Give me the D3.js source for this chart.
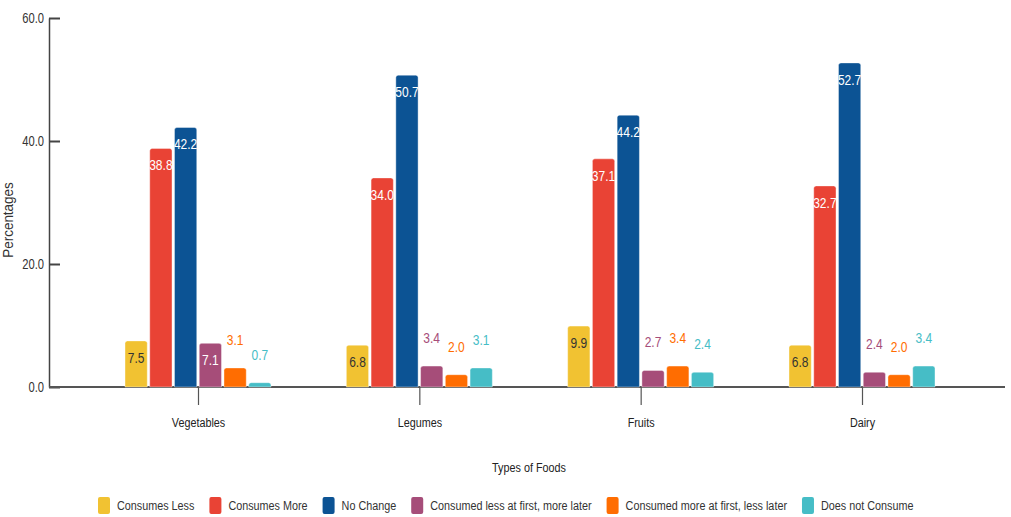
<!DOCTYPE html>
<html><head><meta charset="utf-8">
<script src="https://cdn.jsdelivr.net/npm/d3@7"></script>
<style>
html,body{margin:0;padding:0;background:#fff;}
svg{display:block;font-family:"Liberation Sans",Arial,sans-serif;}
</style></head>
<body><svg id="c" width="1011" height="517"></svg>
<script>
const categories = ["Vegetables","Legumes","Fruits","Dairy"];
const seriesNames = ["Consumes Less","Consumes More","No Change","Consumed less at first, more later","Consumed more at first, less later","Does not Consume"];
const consumesLess = [7.5, 6.8, 9.9, 6.8];
const consumesMore = [38.8, 34.0, 37.1, 32.7];
const noChange = [42.2, 50.7, 44.2, 52.7];
const lessFirstMoreLater = [7.1, 3.4, 2.7, 2.4];
const moreFirstLessLater = [3.1, 2.0, 3.4, 2.0];
const doesNotConsume = [0.7, 3.1, 2.4, 3.4];
const yTicks = [0, 20, 40, 60];
const colors = ["#F1C232","#E94335","#0C5394","#A64D79","#FF6D01","#46BDC6"];
const seriesValues = [consumesLess, consumesMore, noChange, lessFirstMoreLater, moreFirstLessLater, doesNotConsume];

const SX = 0.8; // condensed look
const svg = d3.select("#c");
const y = d3.scaleLinear().domain([0, 60]).range([387, 18]);
const x0 = d3.scalePoint().domain(categories).range([198, 862]);
const x1 = d3.scaleBand().domain(d3.range(6)).range([-73, 73]).paddingInner(0.1);

function ctext(parent, x, yy, str, size, fill, anchor){
  return parent.append("text")
    .attr("transform", `translate(${x},${yy}) scale(${SX},1)`)
    .attr("text-anchor", anchor || "middle").attr("dominant-baseline","central")
    .attr("font-size", size).attr("fill", fill).text(str);
}

// y axis
const yAxis = svg.append("g").attr("transform","translate(49,0)")
  .call(d3.axisLeft(y).tickValues(yTicks).tickFormat(d3.format(".1f")).tickSizeInner(-11).tickSizeOuter(0).tickPadding(5));
yAxis.select(".domain").attr("stroke","#444").attr("stroke-width",1.5);
yAxis.selectAll(".tick line").attr("stroke","#444").attr("stroke-width",2);
yAxis.selectAll(".tick text").remove();
yAxis.selectAll(".tick").each(function(d){
  ctext(d3.select(this), -5, 0, d3.format(".1f")(d), 14, "#333", "end");
});

// x axis
const xAxis = svg.append("g").attr("transform","translate(0,387)")
  .call(d3.axisBottom(x0).tickSizeInner(18).tickSizeOuter(0));
xAxis.select(".domain").remove();
xAxis.selectAll(".tick line").attr("stroke","#555").attr("stroke-width",1.2);
xAxis.selectAll(".tick text").remove();
xAxis.selectAll(".tick").each(function(d){
  ctext(d3.select(this), 0, 36, d, 13.5, "#222");
});
svg.append("line").attr("x1",49).attr("x2",1005).attr("y1",387).attr("y2",387)
  .attr("stroke","#555").attr("stroke-width",2);

function topRounded(x, yTop, w, h, r){
  r = Math.min(r, h, w/2);
  return `M${x},${yTop+h}V${yTop+r}Q${x},${yTop} ${x+r},${yTop}H${x+w-r}Q${x+w},${yTop} ${x+w},${yTop+r}V${yTop+h}Z`;
}

const groups = svg.append("g").selectAll("g").data(categories).join("g")
  .attr("transform", d => `translate(${x0(d)},0)`);

groups.each(function(cat, ci){
  const g = d3.select(this);
  seriesValues.forEach((vals, si) => {
    const v = vals[ci];
    const bx = x1(si), bw = x1.bandwidth();
    const yt = y(v), h = y(0) - yt;
    g.append("path").attr("d", topRounded(bx, yt, bw, h, 2.5))
      .attr("fill", colors[si]).attr("stroke","#fff").attr("stroke-opacity",0.5).attr("stroke-width",0.8);
    const inside = v > 5;
    ctext(g, bx + bw/2, inside ? yt + 17 : yt - 28, d3.format(".1f")(v), 15,
      inside ? (si === 0 ? "#333" : "#fff") : colors[si]);
  });
});

// axis titles
svg.append("text").attr("transform","translate(13,220) rotate(-90) scale(0.9,1)")
  .attr("text-anchor","middle").attr("font-size",15).attr("fill","#333").text("Percentages");
ctext(svg, 529, 468, "Types of Foods", 13.5, "#222");

// legend
const legend = svg.append("g");
let lx = 98;
seriesNames.forEach((name, i) => {
  const it = legend.append("g").attr("transform", `translate(${lx},0)`);
  it.append("rect").attr("x",0).attr("y",497).attr("width",12).attr("height",17).attr("rx",2).attr("fill",colors[i]);
  const t = ctext(it, 19, 505.5, name, 13.5, "#333", "start");
  const w = t.node().getComputedTextLength() * SX;
  lx += 19 + w + 15;
});
</script></body></html>
